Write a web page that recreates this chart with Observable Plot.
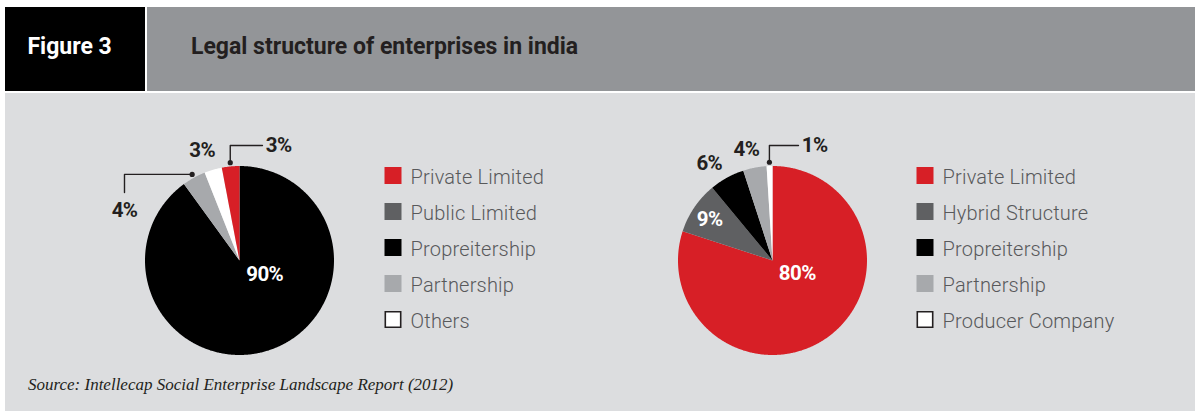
<!DOCTYPE html>
<html>
<head>
<meta charset="utf-8">
<script src="https://cdn.jsdelivr.net/npm/d3@7"></script>
<script src="https://cdn.jsdelivr.net/npm/@observablehq/plot@0.6"></script>
<style>
  html, body { margin: 0; padding: 0; background: #ffffff; }
  #page { position: relative; width: 1195px; height: 411px; overflow: hidden; background: #ffffff; font-family: Roboto, "Noto Sans", sans-serif; }
  #figbox { position: absolute; left: 5px; top: 7px; width: 140px; height: 84px; background: #000000; }
  #titlebox { position: absolute; left: 147px; top: 7px; width: 1048px; height: 84px; background: #939598; }
  #panel { position: absolute; left: 5px; top: 93px; width: 1190px; height: 318px; background: #dcdddf; }
  .hdr { position: absolute; top: 34.6px; font-size: 23px; line-height: 1; font-weight: 700; white-space: nowrap; }
  #figlabel { left: 27.5px; color: #ffffff; }
  #titletext { left: 191px; color: #231f20; }
  #source { position: absolute; left: 28px; top: 375.5px; font-family: "Liberation Serif", "DejaVu Serif", serif; font-style: italic; font-size: 17px; line-height: 1; color: #231f20; white-space: nowrap; }
  .chart { position: absolute; }
  .pie-lbl text { letter-spacing: -0.6px; }
  .legend-lbl text { letter-spacing: 0.2px; }
</style>
</head>
<body>
<div id="page">
  <div id="figbox"></div>
  <div id="titlebox"></div>
  <div id="panel"></div>
  <div class="hdr" id="figlabel">Figure 3</div>
  <div class="hdr" id="titletext">Legal structure of enterprises in india</div>
  <div class="chart" id="pie1"></div>
  <div class="chart" id="legend1"></div>
  <div class="chart" id="pie2"></div>
  <div class="chart" id="legend2"></div>
  <div id="source">Source: Intellecap Social Enterprise Landscape Report (2012)</div>
</div>
<script>
// ---------------- DATA ----------------
const categories1 = ["Private Limited", "Public Limited", "Propreitership", "Partnership", "Others"];
const values1 = [3, 0, 90, 4, 3];
// slices drawn clockwise from 12 o'clock
const sliceOrder1 = ["Propreitership", "Partnership", "Others", "Private Limited", "Public Limited"];

const categories2 = ["Private Limited", "Hybrid Structure", "Propreitership", "Partnership", "Producer Company"];
const values2 = [80, 9, 6, 4, 1];
const sliceOrder2 = ["Private Limited", "Hybrid Structure", "Propreitership", "Partnership", "Producer Company"];

const sliceColors = ["#d71f26", "#5f6062", "#000000", "#a7a9ac", "#ffffff"];

// ---------------- LAYOUT ----------------
const R_PX = 94.5;          // pie radius in pixels
const SIZE = 320;           // pie plot size
const HALF = SIZE / 2 / R_PX;
const INK = "#231f20";

// label placement (angle in degrees clockwise from top, k = distance in radii)
const placement1 = {
  "Propreitership": {type: "polar", angle: 119.3, k: 0.306, white: true},
  "Others": {type: "polar", angle: -18.7, k: 1.231},
  "Private Limited": {type: "up", elbow: 1.217, end: 0.243},
  "Partnership": {type: "side", end: -1.217, elbow: 0.72, labelY: 0.534}
};
const placement2 = {
  "Private Limited": {type: "polar", angle: 118.3, k: 0.298, white: true},
  "Hybrid Structure": {type: "polar", angle: -57.0, k: 0.793, white: true},
  "Propreitership": {type: "polar", angle: -33.1, k: 1.225},
  "Partnership": {type: "polar", angle: -13.3, k: 1.204},
  "Producer Company": {type: "up", elbow: 1.217, end: 0.275}
};

function pieChart(cats, vals, order, placement) {
  const total = d3.sum(vals);
  const pts = [];
  const mids = new Map();
  let acc = 0;
  for (const c of order) {
    const v = vals[cats.indexOf(c)];
    if (!v) continue;
    const a0 = acc / total * 2 * Math.PI;
    acc += v;
    const a1 = acc / total * 2 * Math.PI;
    mids.set(c, (a0 + a1) / 2);
    const n = Math.max(2, Math.ceil((a1 - a0) * 180 / Math.PI * 2));
    pts.push({cat: c, x: 0, y: 0});
    for (let i = 0; i <= n; i++) {
      const a = a0 + (a1 - a0) * i / n;
      pts.push({cat: c, x: Math.sin(a), y: Math.cos(a)});
    }
    pts.push({cat: c, x: 0, y: 0});
  }
  const labels = [], paths = [], dots = [];
  cats.forEach((c, i) => {
    const v = vals[i];
    if (!v) return;
    const p = placement[c];
    const text = `${v}%`;
    if (p.type === "polar") {
      const a = p.angle * Math.PI / 180;
      labels.push({text, x: p.k * Math.sin(a), y: p.k * Math.cos(a), anchor: "middle", white: !!p.white});
    } else {
      const m = mids.get(c);
      const x0 = 1.04 * Math.sin(m), y0 = 1.04 * Math.cos(m);
      dots.push({x: x0, y: y0});
      if (p.type === "up") {
        paths.push({k: c, x: x0, y: y0}, {k: c, x: x0, y: p.elbow}, {k: c, x: p.end, y: p.elbow});
        labels.push({text, x: p.end + 0.035, y: p.elbow, anchor: "start", white: false});
      } else {
        paths.push({k: c, x: x0, y: y0}, {k: c, x: p.end, y: y0}, {k: c, x: p.end, y: p.elbow});
        labels.push({text, x: p.end, y: p.labelY, anchor: "middle", white: false});
      }
    }
  });
  const txt = {x: "x", y: "y", text: "text", fontSize: 20.5, fontWeight: 700};
  return Plot.plot({
    width: SIZE, height: SIZE, margin: 0,
    className: "pie-lbl",
    style: {background: "transparent", overflow: "visible", fontFamily: "Roboto, sans-serif"},
    x: {domain: [-HALF, HALF], axis: null},
    y: {domain: [-HALF, HALF], axis: null},
    color: {domain: cats, range: sliceColors},
    marks: [
      Plot.line(pts, {x: "x", y: "y", z: "cat", fill: "cat", stroke: "none"}),
      Plot.line(paths, {x: "x", y: "y", z: "k", stroke: INK, strokeWidth: 1.4}),
      Plot.dot(dots, {x: "x", y: "y", r: 2.6, fill: INK, stroke: "none"}),
      Plot.text(labels.filter(d => d.anchor === "middle" && d.white), {...txt, fill: "#ffffff", textAnchor: "middle"}),
      Plot.text(labels.filter(d => d.anchor === "middle" && !d.white), {...txt, fill: INK, textAnchor: "middle"}),
      Plot.text(labels.filter(d => d.anchor === "start"), {...txt, fill: INK, textAnchor: "start"})
    ]
  });
}

function legendChart(cats) {
  const last = cats[cats.length - 1];
  return Plot.plot({
    width: 230, height: 194, margin: 0,
    className: "legend-lbl",
    style: {background: "transparent", overflow: "visible", fontFamily: "Roboto, sans-serif"},
    y: {type: "point", domain: cats, range: [23.3, 171], padding: 0, axis: null},
    color: {domain: cats, range: sliceColors},
    marks: [
      Plot.dot(cats.filter(c => c !== last), {y: d => d, fill: d => d, symbol: "square", r: 17 / Math.sqrt(Math.PI), frameAnchor: "left", dx: 12.5, stroke: "none"}),
      Plot.dot([last], {y: d => d, fill: "#ffffff", stroke: INK, strokeWidth: 1.6, symbol: "square", r: 15.4 / Math.sqrt(Math.PI), frameAnchor: "left", dx: 12.5}),
      Plot.text(cats, {y: d => d, text: d => d, frameAnchor: "left", dx: 30, dy: 2, textAnchor: "start", fontSize: 20, fontWeight: 300, fill: "#58595b"})
    ]
  });
}

function place(id, node, left, top) {
  const el = document.getElementById(id);
  el.style.left = left + "px";
  el.style.top = top + "px";
  el.appendChild(node);
}

place("pie1", pieChart(categories1, values1, sliceOrder1, placement1), 239 - SIZE / 2, 260 - SIZE / 2);
place("legend1", legendChart(categories1), 380, 150);
place("pie2", pieChart(categories2, values2, sliceOrder2, placement2), 772 - SIZE / 2, 260 - SIZE / 2);
place("legend2", legendChart(categories2), 912, 150);
</script>
</body>
</html>
